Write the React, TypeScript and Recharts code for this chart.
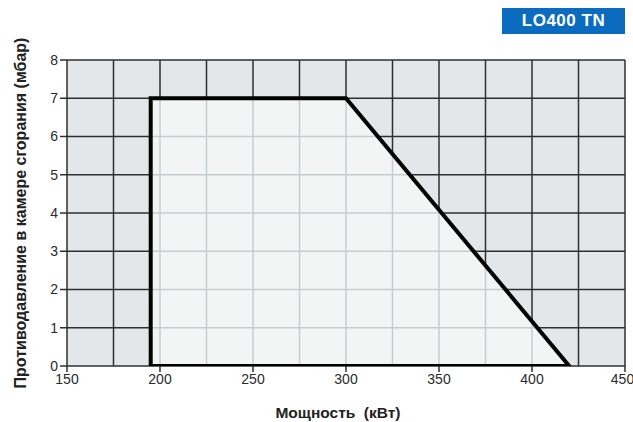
import React from 'react';
import { ComposedChart, XAxis, YAxis, CartesianGrid, Area, Line, ReferenceLine, Label } from 'recharts';

const powerKW = [195, 195, 300, 420];
const pressureMbar = [0, 7, 7, 0];
const xTicks = [150, 200, 250, 300, 350, 400, 450];
const xGrid = [150, 175, 200, 225, 250, 275, 300, 325, 350, 375, 400, 425, 450];
const yTicks = [0, 1, 2, 3, 4, 5, 6, 7, 8];
const title = 'LO400 TN';
const xLabel = 'Мощность\u00a0\u00a0(кВт)';
const yLabel = 'Противодавление в камере сгорания (мбар)';

const areaData = powerKW.map((x, i) => ({ x, y: pressureMbar[i] }));
const outline = [...areaData, areaData[0]];

// top of working field at a given power (linear between corner points)
function topAt(x: number): number | null {
  if (x < powerKW[0] || x > powerKW[powerKW.length - 1]) return null;
  for (let i = 1; i < powerKW.length; i++) {
    const x0 = powerKW[i - 1], x1 = powerKW[i];
    if (x1 === x0) continue;
    if (x >= x0 && x <= x1) {
      const t = (x - x0) / (x1 - x0);
      return pressureMbar[i - 1] + t * (pressureMbar[i] - pressureMbar[i - 1]);
    }
  }
  return null;
}
// right edge of working field at a given pressure
function rightAt(y: number): number {
  const n = powerKW.length;
  const x0 = powerKW[n - 2], y0 = pressureMbar[n - 2], x1 = powerKW[n - 1], y1 = pressureMbar[n - 1];
  const t = (y - y0) / (y1 - y0);
  return x0 + t * (x1 - x0);
}

const innerV = xGrid
  .filter((x) => x > powerKW[0] && x < powerKW[powerKW.length - 1])
  .map((x) => ({ x, top: topAt(x) as number }));
const innerH = yTicks
  .filter((y) => y > 0 && y < pressureMbar[1])
  .map((y) => ({ y, right: rightAt(y) }));

const font = '"Liberation Sans", Arial, sans-serif';

export default function App() {
  return (
    <div style={{ position: 'absolute', left: 0, top: 0, width: 633, height: 422, background: '#fff', fontFamily: font }}>
      <div
        style={{
          position: 'absolute', left: 502, top: 8, width: 123, height: 26, background: '#0b6cbf',
          color: '#fff', fontWeight: 900, fontSize: 17, lineHeight: '26px', textAlign: 'center', fontFamily: font,
          letterSpacing: 0.5,
        }}
      >
        {title}
      </div>
      <ComposedChart width={633} height={422} margin={{ top: 60, right: 8, bottom: 0, left: 0 }} style={{ fontFamily: font }}>
        <CartesianGrid
          xAxisId="grid"
          stroke="#2f2f2f"
          strokeWidth={1.5}
          fill="#e4e7ea"
          fillOpacity={1}
        />
        <XAxis
          xAxisId="grid"
          type="number"
          dataKey="x"
          domain={[150, 450]}
          ticks={xGrid}
          hide
          allowDataOverflow
        />
        <XAxis
          type="number"
          dataKey="x"
          domain={[150, 450]}
          ticks={xTicks}
          height={56}
          axisLine={false}
          tickLine={{ stroke: '#2f2f2f', strokeWidth: 1.5 }}
          tickSize={6}
          tick={{ fill: '#2a2a2a', fontSize: 14 }}
          allowDataOverflow
        >
          <Label value={xLabel} position="insideBottom" offset={4} style={{ fill: '#222', fontWeight: 'bold', fontSize: 15.5 }} dx={-8} />
        </XAxis>
        <YAxis
          type="number"
          domain={[0, 8]}
          ticks={yTicks}
          width={67}
          axisLine={false}
          tickLine={{ stroke: '#2f2f2f', strokeWidth: 1.5 }}
          tickSize={7}
          tick={{ fill: '#2a2a2a', fontSize: 14 }}
          allowDataOverflow
        >
          <Label value={yLabel} angle={-90} position="insideLeft" offset={20} style={{ fill: '#222', fontWeight: 'bold', fontSize: 16, textAnchor: 'middle' }} />
        </YAxis>
        <Area
          data={areaData}
          dataKey="y"
          type="linear"
          stroke="none"
          fill="#f3f5f5"
          fillOpacity={1}
          isAnimationActive={false}
          baseValue={0}
        />
        {innerV.map((v) => (
          <ReferenceLine key={'v' + v.x} segment={[{ x: v.x, y: 0 }, { x: v.x, y: v.top }]} stroke="#c6cdd1" strokeWidth={1.5} />
        ))}
        {innerH.map((h) => (
          <ReferenceLine key={'h' + h.y} segment={[{ x: powerKW[0], y: h.y }, { x: h.right, y: h.y }]} stroke="#c6cdd1" strokeWidth={1.5} />
        ))}
        <Line
          data={outline}
          dataKey="y"
          type="linear"
          stroke="#000"
          strokeWidth={4}
          dot={false}
          activeDot={false}
          strokeLinejoin="miter"
          isAnimationActive={false}
        />
      </ComposedChart>
    </div>
  );
}
